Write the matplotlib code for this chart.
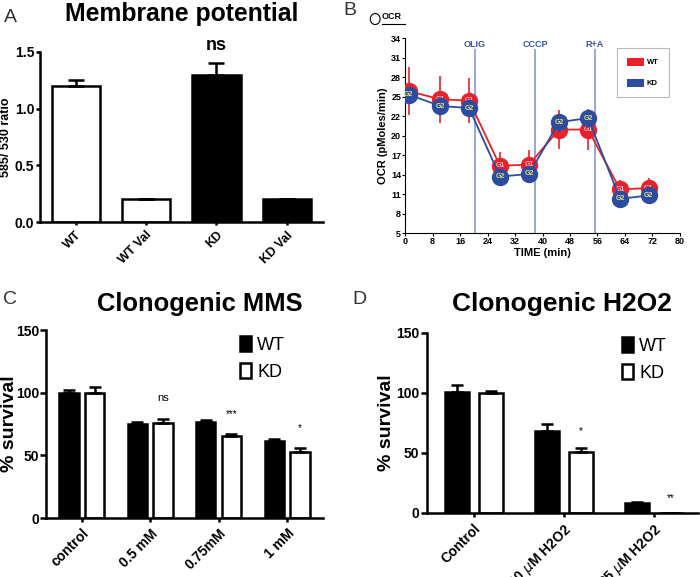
import numpy as np
import matplotlib.pyplot as plt
from matplotlib.patches import Patch, Ellipse
from matplotlib.lines import Line2D

plt.rcParams['font.family'] = ['Liberation Sans', 'DejaVu Sans']

# ---------------- data ----------------
# A: membrane potential
a_labels = ["WT", "WT Val", "KD", "KD Val"]
a_values = [1.20, 0.20, 1.30, 0.20]
a_err = [0.05, 0.0, 0.10, 0.0]
a_fill = ["white", "white", "black", "black"]

# B: OCR time course
b_time = [1, 10.2, 18.6, 27.6, 36.1, 44.8, 53.3, 62.6, 71]
b_wt = [26.1, 24.9, 24.7, 15.0, 15.2, 20.4, 20.4, 11.5, 11.7]
b_wt_err = [3.6, 3.5, 3.3, 2.0, 2.2, 2.9, 3.0, 1.4, 1.5]
b_kd = [25.6, 23.9, 23.6, 13.4, 13.8, 21.5, 22.1, 10.1, 10.6]
b_kd_err = [0.6, 0.6, 0.6, 0.5, 0.5, 0.6, 0.6, 0.4, 0.4]
b_inject_t = [20.2, 37.8, 55.3]
b_inject_lab = ["OLIG", "CCCP", "R+A"]
b_yticklabels = ["5", "8", "11", "14", "17", "20", "22", "25", "28", "31", "34"]

# C: clonogenic MMS
c_labels = ["control", "0.5 mM", "0.75mM", "1 mM"]
c_wt = [100, 75, 76.5, 61.5]
c_wt_err = [2, 1.5, 1.5, 1.5]
c_kd = [100, 76, 65.5, 53]
c_kd_err = [4.5, 3, 1.3, 2.7]
c_sig = ["ns", "***", "*"]
c_sig_y = [92, 79, 68]

# D: clonogenic H2O2
d_labels = ["Control", "10 $\\mu$M H2O2", "25 $\\mu$M H2O2"]
d_wt = [100.5, 68.5, 8.5]
d_wt_err = [6, 5.5, 1]
d_kd = [100, 50.5, 0]
d_kd_err = [2, 3.5, 0]
d_sig = ["*", "**"]
d_sig_y = [64, 8]

RED = "#e8222b"
BLUE = "#2b4c9f"

fig = plt.figure(figsize=(7, 5.77), dpi=100)


def style_prism(ax, lw=1.8, size=10, pad=1.5, length=3.5):
    for s in ["top", "right"]:
        ax.spines[s].set_visible(False)
    for s in ["left", "bottom"]:
        ax.spines[s].set_linewidth(lw)
    ax.tick_params(width=lw, length=length, labelsize=size, pad=pad)
    for lab in ax.get_yticklabels() + ax.get_xticklabels():
        lab.set_fontweight("bold")


# ---------------- A ----------------
axA = fig.add_axes([0.057, 0.615, 0.404, 0.295])
xa = np.arange(len(a_labels))
axA.bar(xa, a_values, width=0.69, color=a_fill, edgecolor="black", linewidth=1.8,
        yerr=[np.zeros(4), a_err], error_kw=dict(ecolor="black", elinewidth=1.8, capsize=6, capthick=1.8))
axA.set_xlim(-0.51, 3.51)
axA.set_ylim(0, 1.5)
axA.set_yticks([0.0, 0.5, 1.0, 1.5])
axA.set_xticks(xa)
axA.set_xticklabels(a_labels, rotation=45, ha="right", rotation_mode="anchor")
axA.set_ylabel("585/ 530 ratio", fontsize=9, fontweight="bold")
axA.yaxis.set_label_coords(-0.099, 0.5)
style_prism(axA, size=10, pad=1, length=3)
axA.tick_params(axis="x", length=2, labelsize=9, pad=3)
axA.text(2, 1.48, "ns", ha="center", va="bottom", fontsize=13, fontweight="bold")
fig.text(0.26, 0.997, "Membrane potential", ha="center", va="top", fontsize=17.8, fontweight="bold")
fig.text(0.005, 0.985, "A", ha="left", va="top", fontsize=14, color="#333333")

# ---------------- B ----------------
axB = fig.add_axes([0.579, 0.596, 0.392, 0.338])
for t in b_inject_t:
    axB.axvline(t, ymax=0.94, color="#8ea3d1", linewidth=1.3, zorder=1)
for t, lab in zip(b_inject_t, b_inject_lab):
    axB.text(t, 33.1, lab, ha="center", va="center", fontsize=6.5, fontweight="bold", color="#3a52a3")
axB.errorbar(b_time, b_wt, yerr=b_wt_err, color=RED, linewidth=1.3, elinewidth=1.2,
             marker="o", markersize=11.5, markeredgecolor=RED, zorder=3)
axB.errorbar(b_time, b_kd, yerr=b_kd_err, color=BLUE, linewidth=1.3, elinewidth=1.2,
             marker="o", markersize=11.5, markeredgecolor=BLUE, zorder=4)
for t, y in zip(b_time, b_wt):
    axB.text(t, y, "G1", ha="center", va="center", fontsize=5, fontweight="bold", color="#e9b8c0", zorder=3.5)
for t, y in zip(b_time, b_kd):
    axB.text(t, y, "G2", ha="center", va="center", fontsize=5, fontweight="bold", color="#e6e07a", zorder=5)
axB.set_xlim(0, 80)
axB.set_ylim(5, 34)
axB.set_xticks(np.arange(0, 81, 8))
axB.set_yticks(np.linspace(5, 34, len(b_yticklabels)))
axB.set_yticklabels(b_yticklabels)
for s in ["top", "right"]:
    axB.spines[s].set_visible(False)
axB.tick_params(labelsize=6.5, length=2, width=0.8, pad=1)
for lab in axB.get_yticklabels() + axB.get_xticklabels():
    lab.set_fontweight("bold")
axB.set_xlabel("TIME (min)", fontsize=8, fontweight="bold", labelpad=1)
axB.set_ylabel("OCR (pMoles/min)", fontsize=8, fontweight="bold", labelpad=2)
legB = axB.legend(handles=[Patch(facecolor=RED, label="WT"), Patch(facecolor=BLUE, label="KD")],
                  loc="upper right", bbox_to_anchor=(0.96, 0.95), fancybox=False, edgecolor="#aaaaaa",
                  handlelength=2.2, handleheight=1.3, handletextpad=0.4, labelspacing=1.6,
                  borderpad=1.3, borderaxespad=0, prop=dict(size=5.5, weight="bold"))
legB.get_frame().set_linewidth(0.8)
fig.text(0.49, 0.997, "B", ha="left", va="top", fontsize=14, color="#333333")
fig.add_artist(Ellipse((0.536, 0.967), 0.014, 0.019, transform=fig.transFigure,
                       fill=False, linewidth=0.8, edgecolor="black"))
fig.text(0.545, 0.963, "OCR", ha="left", va="bottom", fontsize=6.5, fontweight="bold")
fig.add_artist(Line2D([0.545, 0.579], [0.959, 0.959], transform=fig.transFigure, color="black", linewidth=0.8))


def grouped(ax, labels, wt, wt_err, kd, kd_err, width, off, ypad, label_x, leg_anchor):
    x = np.arange(len(labels))
    ax.bar(x - off, wt, width=width, color="black", edgecolor="black", linewidth=1.8,
           yerr=[np.zeros(len(wt)), wt_err],
           error_kw=dict(ecolor="black", elinewidth=1.8, capsize=4, capthick=1.8))
    ax.bar(x + off, kd, width=width, color="white", edgecolor="black", linewidth=1.8,
           yerr=[np.zeros(len(kd)), kd_err],
           error_kw=dict(ecolor="black", elinewidth=1.8, capsize=4, capthick=1.8))
    ax.set_xticks(x)
    ax.set_xticklabels(labels, rotation=45, ha="right", rotation_mode="anchor")
    ax.set_ylim(0, 150)
    ax.set_yticks([0, 50, 100, 150])
    ax.set_ylabel("% survival", fontsize=14, fontweight="bold")
    ax.yaxis.set_label_coords(label_x, 0.5)
    style_prism(ax, size=10, pad=ypad, length=4)
    ax.tick_params(axis="x", length=3, labelsize=10, pad=3)
    ax.legend(handles=[Patch(facecolor="black", edgecolor="black", linewidth=1.8, label="WT"),
                       Patch(facecolor="white", edgecolor="black", linewidth=1.8, label="KD")],
              loc="upper left", bbox_to_anchor=leg_anchor, frameon=False,
              handlelength=0.6, handleheight=0.95, handletextpad=0.35, labelspacing=0.5,
              borderaxespad=0, borderpad=0, fontsize=13)
    return x


# ---------------- C ----------------
axC = fig.add_axes([0.066, 0.102, 0.396, 0.326])
xc = grouped(axC, c_labels, c_wt, c_wt_err, c_kd, c_kd_err, 0.28, 0.187, 1, -0.1, (0.70, 0.97))
axC.set_xlim(-0.52, 3.53)
for i, (s, y) in enumerate(zip(c_sig, c_sig_y)):
    axC.text(xc[i + 1] + 0.187, y, s, ha="center", va="bottom", fontsize=8 if s == "ns" else 7)
fig.text(0.285, 0.494, "Clonogenic MMS", ha="center", va="top", fontsize=18.4, fontweight="bold")
fig.text(0.005, 0.495, "C", ha="left", va="top", fontsize=14, color="#333333")

# ---------------- D ----------------
axD = fig.add_axes([0.61, 0.111, 0.387, 0.312])
xd = grouped(axD, d_labels, d_wt, d_wt_err, d_kd, d_kd_err, 0.27, 0.19, 1.5, -0.118, (0.72, 0.98))
axD.set_xlim(-0.52, 2.49)
for i, (s, y) in enumerate(zip(d_sig, d_sig_y)):
    axD.text(xd[i + 1] + 0.19, y, s, ha="center", va="bottom", fontsize=7)
fig.text(0.803, 0.494, "Clonogenic H2O2", ha="center", va="top", fontsize=19, fontweight="bold")
fig.text(0.503, 0.495, "D", ha="left", va="top", fontsize=14, color="#333333")

fig.savefig("out.png", dpi=100)
